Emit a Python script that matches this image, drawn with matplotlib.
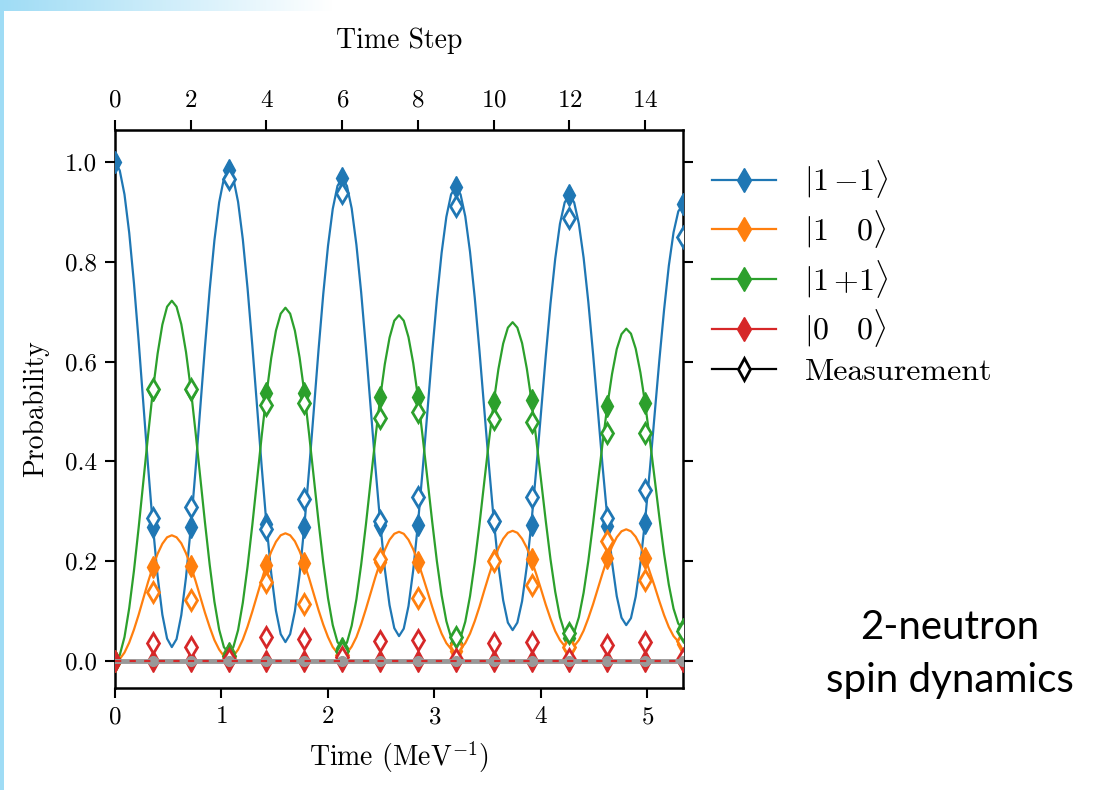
import numpy as np
import matplotlib
matplotlib.use('Agg')
import matplotlib.pyplot as plt
from matplotlib.lines import Line2D

plt.rcParams['font.family'] = 'serif'
plt.rcParams['font.serif'] = ['cmr10', 'DejaVu Serif']
plt.rcParams['mathtext.fontset'] = 'cm'
plt.rcParams['axes.unicode_minus'] = False
plt.rcParams['axes.formatter.use_mathtext'] = True

# time step in MeV^-1 (15 steps across the plot)
dt = 0.3558

# smooth curves, read at eighth time steps (121 points)
blue_curve = [
    1.000, 0.983, 0.935, 0.858, 0.757, 0.640, 0.514, 0.388, 0.271, 0.170, 0.093, 0.045,
    0.028, 0.044, 0.092, 0.168, 0.267, 0.382, 0.506, 0.629, 0.744, 0.843, 0.919, 0.967,
    0.983, 0.967, 0.920, 0.845, 0.747, 0.633, 0.511, 0.388, 0.274, 0.176, 0.101, 0.054,
    0.038, 0.054, 0.100, 0.174, 0.271, 0.383, 0.503, 0.624, 0.736, 0.832, 0.906, 0.952,
    0.968, 0.952, 0.907, 0.834, 0.739, 0.628, 0.509, 0.390, 0.280, 0.184, 0.112, 0.066,
    0.050, 0.065, 0.110, 0.182, 0.275, 0.384, 0.500, 0.617, 0.725, 0.818, 0.890, 0.935,
    0.950, 0.935, 0.891, 0.820, 0.728, 0.621, 0.506, 0.391, 0.284, 0.192, 0.122, 0.077,
    0.062, 0.077, 0.120, 0.190, 0.280, 0.385, 0.498, 0.611, 0.716, 0.806, 0.876, 0.919,
    0.934, 0.919, 0.876, 0.808, 0.719, 0.615, 0.503, 0.391, 0.288, 0.198, 0.130, 0.087,
    0.072, 0.086, 0.129, 0.196, 0.283, 0.384, 0.494, 0.603, 0.704, 0.792, 0.859, 0.901,
    0.915]
orange_curve = [
    0.000, 0.004, 0.017, 0.037, 0.063, 0.093, 0.126, 0.159, 0.189, 0.215, 0.235, 0.248,
    0.252, 0.248, 0.236, 0.216, 0.191, 0.161, 0.129, 0.097, 0.068, 0.042, 0.023, 0.010,
    0.006, 0.010, 0.023, 0.043, 0.069, 0.099, 0.131, 0.163, 0.194, 0.219, 0.239, 0.252,
    0.256, 0.252, 0.240, 0.220, 0.195, 0.166, 0.134, 0.102, 0.073, 0.048, 0.028, 0.016,
    0.012, 0.016, 0.029, 0.048, 0.074, 0.104, 0.136, 0.168, 0.197, 0.223, 0.243, 0.255,
    0.259, 0.255, 0.243, 0.224, 0.199, 0.170, 0.140, 0.109, 0.080, 0.055, 0.036, 0.024,
    0.020, 0.024, 0.036, 0.055, 0.080, 0.109, 0.141, 0.172, 0.201, 0.226, 0.245, 0.257,
    0.261, 0.257, 0.245, 0.227, 0.202, 0.174, 0.144, 0.113, 0.085, 0.060, 0.042, 0.030,
    0.026, 0.030, 0.042, 0.061, 0.086, 0.114, 0.145, 0.176, 0.205, 0.229, 0.248, 0.260,
    0.264, 0.260, 0.249, 0.231, 0.207, 0.178, 0.150, 0.120, 0.092, 0.068, 0.050, 0.039,
    0.035]
green_curve = [
    0.000, 0.012, 0.048, 0.106, 0.181, 0.268, 0.361, 0.454, 0.542, 0.616, 0.674, 0.710,
    0.722, 0.710, 0.675, 0.619, 0.546, 0.460, 0.369, 0.278, 0.193, 0.119, 0.063, 0.028,
    0.016, 0.028, 0.062, 0.117, 0.189, 0.272, 0.362, 0.452, 0.535, 0.607, 0.662, 0.696,
    0.708, 0.696, 0.662, 0.608, 0.538, 0.455, 0.367, 0.279, 0.197, 0.126, 0.072, 0.038,
    0.026, 0.037, 0.071, 0.124, 0.193, 0.273, 0.360, 0.446, 0.526, 0.595, 0.648, 0.682,
    0.693, 0.682, 0.649, 0.597, 0.529, 0.449, 0.365, 0.280, 0.200, 0.132, 0.080, 0.047,
    0.036, 0.047, 0.079, 0.130, 0.197, 0.274, 0.358, 0.441, 0.518, 0.585, 0.636, 0.668,
    0.679, 0.668, 0.637, 0.586, 0.521, 0.444, 0.363, 0.281, 0.204, 0.139, 0.088, 0.057,
    0.046, 0.057, 0.088, 0.137, 0.201, 0.276, 0.356, 0.436, 0.511, 0.575, 0.625, 0.655,
    0.666, 0.656, 0.626, 0.578, 0.516, 0.443, 0.366, 0.288, 0.215, 0.153, 0.105, 0.075,
    0.065]
red_curve = [0.0] * 121

# values at each time step: exact (filled, steps 0-15)
steps = list(range(16))
blue_exact = [1.0, 0.268, 0.268, 0.983, 0.275, 0.268, 0.968, 0.273, 0.273, 0.950, 0.279, 0.273, 0.934, 0.270, 0.276, 0.915]
orange_exact = [0.0, 0.188, 0.190, 0.006, 0.192, 0.196, 0.012, 0.199, 0.199, 0.020, 0.202, 0.204, 0.026, 0.206, 0.206, 0.035]
green_exact = [0.0, 0.543, 0.543, 0.016, 0.537, 0.537, 0.026, 0.529, 0.529, 0.036, 0.519, 0.523, 0.046, 0.511, 0.517, 0.065]
red_exact = [0.0] * 16

# measured (open, steps 1-15)
meas_steps = list(range(1, 16))
blue_meas = [0.287, 0.309, 0.965, 0.265, 0.325, 0.938, 0.280, 0.329, 0.912, 0.280, 0.328, 0.888, 0.286, 0.343, 0.850]
orange_meas = [0.138, 0.122, 0.010, 0.159, 0.114, 0.012, 0.205, 0.126, 0.030, 0.200, 0.152, 0.028, 0.240, 0.162, 0.040]
green_meas = [0.545, 0.545, 0.010, 0.513, 0.517, 0.020, 0.487, 0.499, 0.048, 0.485, 0.479, 0.056, 0.457, 0.457, 0.060]
red_meas = [0.036, 0.028, 0.005, 0.048, 0.044, 0.008, 0.040, 0.042, 0.005, 0.036, 0.038, 0.005, 0.032, 0.038, 0.005]
gray_ref = [0.0] * 16

labels = [r'$|1\,{-1}\rangle$', r'$|1\quad 0\rangle$', r'$|1\,{+1}\rangle$', r'$|0\quad 0\rangle$']
colors = ['#1f77b4', '#ff7f0e', '#2ca02c', '#d62728']

t_curve = np.arange(121) * dt / 8
t_step = np.array(steps) * dt
t_meas = np.array(meas_steps) * dt

fig = plt.figure(figsize=(11.07, 7.9), dpi=100)

# slide decoration (light blue edge and top-left gradient)
deco = fig.add_axes([0, 0.986, 0.3, 0.014])
deco.imshow(np.linspace(0, 1, 256)[None, :], aspect='auto',
            cmap=matplotlib.colors.LinearSegmentedColormap.from_list('g', ['#9fdcf5', '#ffffff']))
deco.axis('off')
edge = fig.add_axes([0, 0, 0.004, 1])
edge.set_facecolor('#9fdcf5')
edge.set_xticks([])
edge.set_yticks([])
for s in edge.spines.values():
    s.set_visible(False)

ax = fig.add_axes([0.1039, 0.1291, 0.5131, 0.7063])

curves = [blue_curve, orange_curve, green_curve]
exacts = [blue_exact, orange_exact, green_exact, red_exact]
meas = [blue_meas, orange_meas, green_meas, red_meas]

for c, col in zip(curves, colors[:3]):
    ax.plot(t_curve, c, color=col, lw=1.6, zorder=2)

for e, col in zip(exacts, colors):
    ax.plot(t_step, e, ls='none', marker='d', ms=11, color=col, zorder=3)
for m, col in zip(meas, colors):
    ax.plot(t_meas, m, ls='none', marker='d', ms=10, mfc='white', mec=col, mew=2, zorder=4)

# zero reference line
ax.plot(t_step, gray_ref, color='#999999', lw=3.5, marker='o', ms=7,
        markevery=list(range(1, 16)), zorder=5)
ax.plot(t_curve, red_curve, color=colors[3], lw=1.5, ls=(0, (3, 4)), zorder=6)

ax.set_xlim(0, 15 * dt)
ax.set_ylim(-0.054, 1.064)
ax.set_xticks([0, 1, 2, 3, 4, 5])
ax.set_yticks([0.0, 0.2, 0.4, 0.6, 0.8, 1.0])
ax.set_yticklabels(['0.0', '0.2', '0.4', '0.6', '0.8', '1.0'])
ax.tick_params(axis='both', direction='out', length=7, width=1.5, labelsize=18, pad=6)
ax.tick_params(axis='y', right=True)
for s in ax.spines.values():
    s.set_linewidth(1.8)
ax.set_xlabel(r'Time (MeV$^{-1}$)', fontsize=20, labelpad=8)
ax.set_ylabel('Probability', fontsize=20, labelpad=11)

top = ax.secondary_xaxis('top', functions=(lambda t: t / dt, lambda s: s * dt))
top.set_xticks([0, 2, 4, 6, 8, 10, 12, 14])
top.tick_params(direction='out', length=7, width=1.5, labelsize=18, pad=6)
top.set_xlabel('Time Step', fontsize=20, labelpad=30)

handles = [Line2D([], [], color=col, marker='d', ms=12, lw=1.6) for col in colors]
handles.append(Line2D([], [], color='black', marker='d', ms=11, mfc='white', mew=2, lw=1.6))
ax.legend(handles, labels + ['Measurement'], loc='upper left', bbox_to_anchor=(1.0, 1.0),
          frameon=False, fontsize=23, handlelength=2.0, handletextpad=0.9, labelspacing=0.25)

fig.text(0.858, 0.172, '2-neutron\nspin dynamics', ha='center', va='center',
         fontsize=29, family='Lato', linespacing=1.55)

fig.savefig('out.png', dpi=100)
